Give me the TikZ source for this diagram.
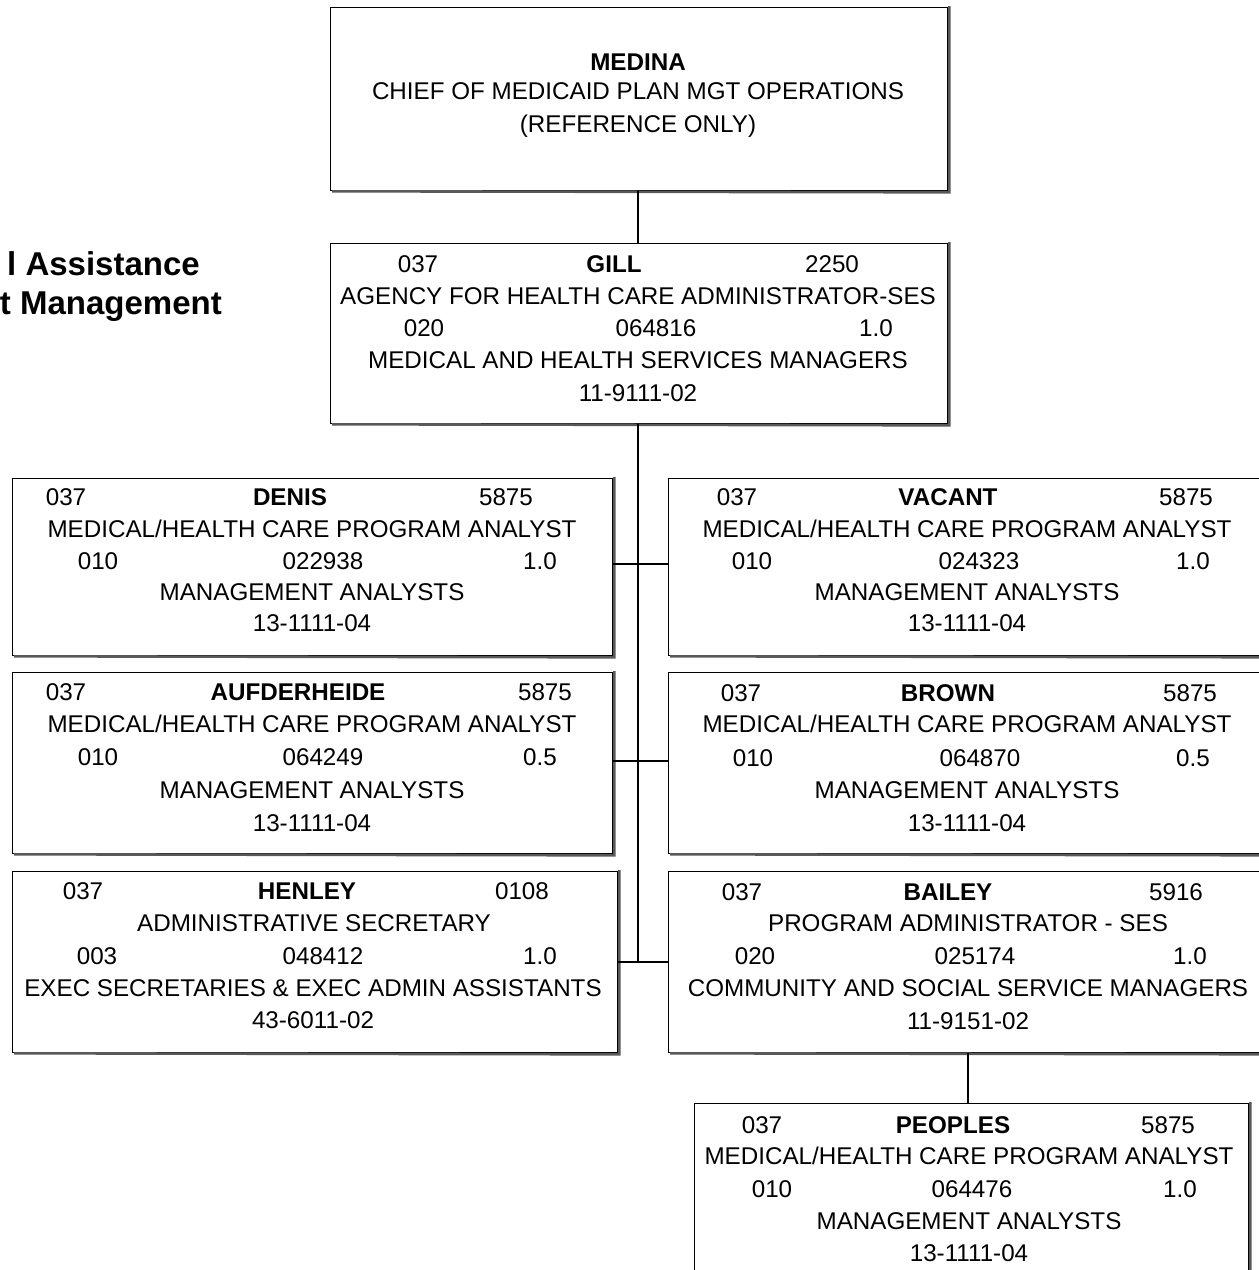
\documentclass[tikz,border=0pt]{standalone}
\usepackage{fontspec}
\setmainfont{Liberation Sans}
\begin{document}
\begin{tikzpicture}[x=1pt,y=-1pt,
  orgbox/.style={draw=black,line width=1.3pt,fill=white,rectangle,inner sep=0pt,anchor=north west},
  edgeshade/.style={draw=black!65,line width=2.6pt},
  link/.style={draw=black,line width=1.5pt},
  txt/.style={anchor=base,inner sep=0pt,font=\fontsize{24.2}{28}\selectfont},
  nm/.style={txt,font=\fontsize{24.2}{28}\selectfont\bfseries},
  ttl/.style={anchor=base east,inner sep=0pt,font=\fontsize{33}{38}\selectfont\bfseries}]
\useasboundingbox (0,0) rectangle (1259,1270);
\clip (0,0) rectangle (1259,1270);

% box with a heavier shaded bottom and right edge
\newcommand\orgunit[5]{%
  \node[orgbox,minimum width=#4pt,minimum height=#5pt] (#1) at (#2,#3) {};
  \draw[edgeshade] ([xshift=2pt]#1.south west) -- ([xshift=1pt,yshift=-1pt]#1.south east) -- ([xshift=1pt,yshift=1pt]#1.north east);
}

% ---- boxes ----
\orgunit{medina}{330}{7}{617}{183}
\orgunit{gill}{330}{243}{617}{180}
\orgunit{denis}{12}{478}{600}{177}
\orgunit{vacant}{668}{478}{620}{177}
\orgunit{aufd}{12}{672}{600}{181}
\orgunit{brown}{668}{672}{620}{181}
\orgunit{henley}{12}{871}{605}{181}
\orgunit{bailey}{668}{871}{620}{181}
\orgunit{peoples}{694}{1103}{554}{190}

% ---- connectors ----
\coordinate (jA) at (638,564);
\coordinate (jB) at (638,761);
\coordinate (jC) at (638,962);
\draw[link] (medina.south -| 638,0) -- (gill.north -| 638,0);
\draw[link] (gill.south -| 638,0) -- (jC);
\draw[link] (denis.east |- jA) -- (vacant.west |- jA);
\draw[link] (aufd.east |- jB) -- (brown.west |- jB);
\draw[link] (henley.east |- jC) -- (bailey.west |- jC);
\draw[link] (bailey.south -| 968,0) -- (peoples.north -| 968,0);

% ---- section title ----
\node[ttl] (t1) at (200,275) {l Assistance};
\node[ttl] (t2) at (222,314) {t Management};

% ---- MEDINA ----
\node[nm]  (medina-n) at (638,70) {MEDINA};
\node[txt] (medina-t) at (638,99) {CHIEF OF MEDICAID PLAN MGT OPERATIONS};
\node[txt] (medina-r) at (638,132) {(REFERENCE ONLY)};

% ---- GILL ----
\node[txt] (gill-a) at (418,272) {037};
\node[nm]  (gill-n) at (614,272) {GILL};
\node[txt] (gill-b) at (832,272) {2250};
\node[txt] (gill-t) at (638,304) {AGENCY FOR HEALTH CARE ADMINISTRATOR-SES};
\node[txt] (gill-c) at (424,336) {020};
\node[txt] (gill-d) at (656,336) {064816};
\node[txt] (gill-e) at (876,336) {1.0};
\node[txt] (gill-f) at (638,368) {MEDICAL AND HEALTH SERVICES MANAGERS};
\node[txt] (gill-g) at (638,401) {11-9111-02};

% ---- DENIS ----
\node[txt] (denis-a) at (66,505) {037};
\node[nm]  (denis-n) at (290,505) {DENIS};
\node[txt] (denis-b) at (506,505) {5875};
\node[txt] (denis-t) at (312,537) {MEDICAL/HEALTH CARE PROGRAM ANALYST};
\node[txt] (denis-c) at (98,569) {010};
\node[txt] (denis-d) at (323,569) {022938};
\node[txt] (denis-e) at (540,569) {1.0};
\node[txt] (denis-f) at (312,600) {MANAGEMENT ANALYSTS};
\node[txt] (denis-g) at (312,631) {13-1111-04};

% ---- VACANT ----
\node[txt] (vacant-a) at (737,505) {037};
\node[nm]  (vacant-n) at (948,505) {VACANT};
\node[txt] (vacant-b) at (1186,505) {5875};
\node[txt] (vacant-t) at (967,537) {MEDICAL/HEALTH CARE PROGRAM ANALYST};
\node[txt] (vacant-c) at (752,569) {010};
\node[txt] (vacant-d) at (979,569) {024323};
\node[txt] (vacant-e) at (1193,569) {1.0};
\node[txt] (vacant-f) at (967,600) {MANAGEMENT ANALYSTS};
\node[txt] (vacant-g) at (967,631) {13-1111-04};

% ---- AUFDERHEIDE ----
\node[txt] (aufd-a) at (66,700) {037};
\node[nm]  (aufd-n) at (298,700) {AUFDERHEIDE};
\node[txt] (aufd-b) at (545,700) {5875};
\node[txt] (aufd-t) at (312,732) {MEDICAL/HEALTH CARE PROGRAM ANALYST};
\node[txt] (aufd-c) at (98,765) {010};
\node[txt] (aufd-d) at (323,765) {064249};
\node[txt] (aufd-e) at (540,765) {0.5};
\node[txt] (aufd-f) at (312,798) {MANAGEMENT ANALYSTS};
\node[txt] (aufd-g) at (312,831) {13-1111-04};

% ---- BROWN ----
\node[txt] (brown-a) at (741,701) {037};
\node[nm]  (brown-n) at (948,701) {BROWN};
\node[txt] (brown-b) at (1190,701) {5875};
\node[txt] (brown-t) at (967,732) {MEDICAL/HEALTH CARE PROGRAM ANALYST};
\node[txt] (brown-c) at (753,766) {010};
\node[txt] (brown-d) at (980,766) {064870};
\node[txt] (brown-e) at (1193,766) {0.5};
\node[txt] (brown-f) at (967,798) {MANAGEMENT ANALYSTS};
\node[txt] (brown-g) at (967,831) {13-1111-04};

% ---- HENLEY ----
\node[txt] (henley-a) at (83,899) {037};
\node[nm]  (henley-n) at (307,899) {HENLEY};
\node[txt] (henley-b) at (522,899) {0108};
\node[txt] (henley-t) at (314,931) {ADMINISTRATIVE SECRETARY};
\node[txt] (henley-c) at (97,964) {003};
\node[txt] (henley-d) at (323,964) {048412};
\node[txt] (henley-e) at (540,964) {1.0};
\node[txt] (henley-f) at (313,996) {EXEC SECRETARIES \& EXEC ADMIN ASSISTANTS};
\node[txt] (henley-g) at (313,1028) {43-6011-02};

% ---- BAILEY ----
\node[txt] (bailey-a) at (742,900) {037};
\node[nm]  (bailey-n) at (948,900) {BAILEY};
\node[txt] (bailey-b) at (1176,900) {5916};
\node[txt] (bailey-t) at (968,931) {PROGRAM ADMINISTRATOR - SES};
\node[txt] (bailey-c) at (755,964) {020};
\node[txt] (bailey-d) at (975,964) {025174};
\node[txt] (bailey-e) at (1190,964) {1.0};
\node[txt] (bailey-f) at (968,996) {COMMUNITY AND SOCIAL SERVICE MANAGERS};
\node[txt] (bailey-g) at (968,1029) {11-9151-02};

% ---- PEOPLES ----
\node[txt] (peoples-a) at (762,1133) {037};
\node[nm]  (peoples-n) at (953,1133) {PEOPLES};
\node[txt] (peoples-b) at (1168,1133) {5875};
\node[txt] (peoples-t) at (969,1164) {MEDICAL/HEALTH CARE PROGRAM ANALYST};
\node[txt] (peoples-c) at (772,1197) {010};
\node[txt] (peoples-d) at (972,1197) {064476};
\node[txt] (peoples-e) at (1180,1197) {1.0};
\node[txt] (peoples-f) at (969,1229) {MANAGEMENT ANALYSTS};
\node[txt] (peoples-g) at (969,1261) {13-1111-04};
\end{tikzpicture}
\end{document}
